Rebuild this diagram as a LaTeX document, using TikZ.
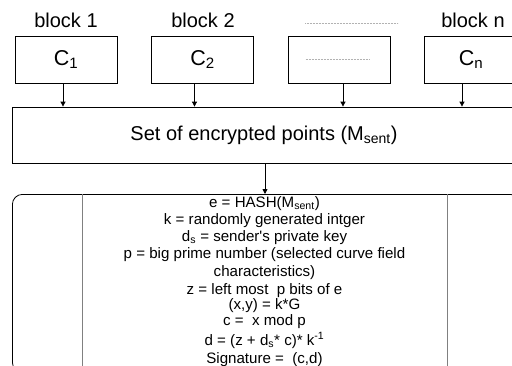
\documentclass[tikz,border=0pt]{standalone}
\usepackage{fontspec}
\setmainfont{Liberation Sans}
\usetikzlibrary{arrows.meta}
\tikzset{
  blk/.style={draw, line width=0.8pt, minimum width=102pt, minimum height=47pt, inner sep=0pt, font=\fontsize{21.5}{24}\selectfont},
  lbl/.style={font=\fontsize{20}{22}\selectfont, inner sep=0pt, anchor=base},
  arr/.style={line width=0.8pt, -{Triangle[length=5pt,width=5pt]}},
  ln/.style={font=\fontsize{15.1}{17}\selectfont, inner sep=0pt, anchor=base},
  dots/.style={gray!60, line width=0.6pt, dash pattern=on 0.6pt off 0.9pt},
}
\begin{document}
\begin{tikzpicture}[x=1pt,y=-1pt]
\useasboundingbox (0,0) rectangle (512,365);
\clip (0,0) rectangle (512,365);
% top labels
\node[lbl] (t1) at (66,27) {block 1};
\node[lbl] (t2) at (203,27) {block 2};
\node[lbl] (tn) at (473,27) {block n};
\coordinate (d1a) at (305,23);
\coordinate (d1b) at (398,23);
\draw[dots] (d1a) -- (d1b);
% blocks
\node[blk] (b1) at (66,59.5) {C\textsubscript{1}};
\node[blk] (b2) at (202.5,59.5) {C\textsubscript{2}};
\node[blk] (b3) at (339.5,59.5) {};
\node[blk] (b4) at (475,59.5) {C\textsubscript{n}\hspace*{8pt}};
\draw[dots] ([xshift=-34pt]b3.center) -- ([xshift=30pt]b3.center);
% set box
\node[draw, line width=0.8pt, minimum width=508pt, minimum height=56pt, inner sep=0pt,
      font=\fontsize{20}{24}\selectfont] (set) at (266,135) {Set of encrypted points (M\textsubscript{sent})\hspace*{4pt}};
% arrows
\draw[arr] ([xshift=-3pt]b1.south) -- ([xshift=-3pt]b1.south |- set.north);
\draw[arr] ([xshift=-8pt]b2.south) -- ([xshift=-8pt]b2.south |- set.north);
\draw[arr] ([xshift=3.5pt]b3.south) -- ([xshift=3.5pt]b3.south |- set.north);
\draw[arr] ([xshift=-13pt]b4.south) -- ([xshift=-13pt]b4.south |- set.north);
% signature box
\node[draw, line width=0.8pt, rounded corners=10pt, minimum width=508pt, minimum height=178pt,
      inner sep=0pt, anchor=north west] (sig) at (12,194) {};
\draw[arr] ([xshift=-1pt]set.south) -- ([xshift=-1pt]set.south |- sig.north);
\draw[gray, line width=1pt] ([xshift=70pt]sig.north west) -- ([xshift=70pt]sig.south west);
\draw[gray, line width=1pt] ([xshift=435pt]sig.north west) -- ([xshift=435pt]sig.south west);
% text lines
\node[ln] (l1) at (264.5,207) {e = HASH(M\textsubscript{sent})};
\node[ln] (l2) at (264.5,224) {k = randomly generated intger};
\node[ln] (l3) at (264.5,241) {d\textsubscript{s} = sender\textquotesingle s private key};
\node[ln] (l4) at (264.5,258) {p = big prime number (selected curve field};
\node[ln] (l5) at (264.5,276) {characteristics)};
\node[ln] (l6) at (264.5,294) {z = left most\ \ p bits of e};
\node[ln] (l7) at (264.5,309.5) {(x,y) = k*G};
\node[ln] (l8) at (264.5,325) {c =\ \ x mod p};
\node[ln] (l9) at (264.5,345) {d = (z + d\textsubscript{s}* c)* k\textsuperscript{-1}};
\node[ln] (l10) at (264.5,363) {Signature =\ \ (c,d)};
\end{tikzpicture}
\end{document}
